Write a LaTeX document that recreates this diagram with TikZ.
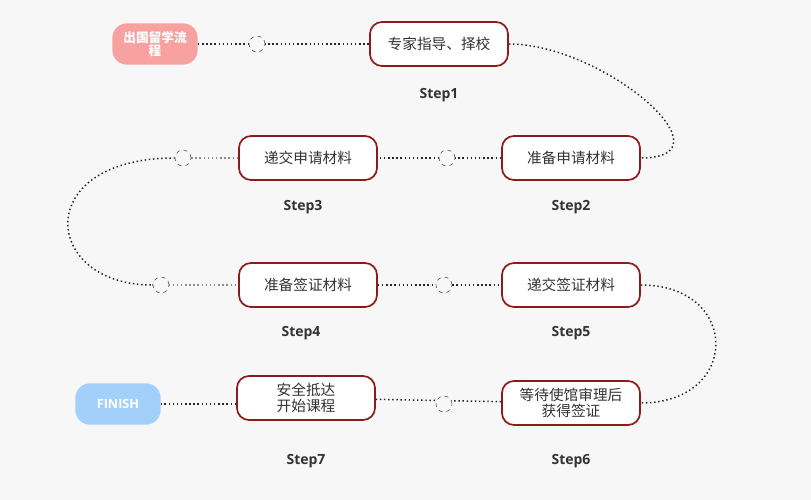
\documentclass[tikz,border=0pt]{standalone}
\usepackage{fontspec}
\newfontfamily\cjk{Noto Sans CJK SC}
\setsansfont{Open Sans}
\definecolor{boxred}{HTML}{8E1B1B}
\definecolor{startpink}{HTML}{F7A1A1}
\definecolor{finishblue}{HTML}{A3D0FA}
\definecolor{bggray}{HTML}{F7F7F7}
\tikzset{
    stepbox/.style={draw=boxred, line width=1.3pt, fill=white, rounded corners=9pt,
        minimum width=103.5pt, minimum height=33pt, align=center,
        font=\cjk\fontsize{11}{13}\selectfont, text=black!80},
    endcap/.style={rounded corners=11pt, minimum width=64pt, minimum height=31pt,
        align=center, text=white},
    steptag/.style={font=\sffamily\bfseries\fontsize{10.5}{12}\selectfont, text=black!80},
    hole/.style={draw=black!70, dashed, circle, minimum size=12pt, inner sep=0pt, fill=bggray},
    link/.style={dotted, line width=1.1pt, black!85}
}
\begin{document}
\begin{tikzpicture}[x=0.75pt,y=-0.75pt]
    \fill[bggray] (0,0) rectangle (811,500);
    % start and finish
    \node[endcap, fill=startpink, font=\cjk\bfseries\fontsize{9.5}{10}\selectfont] (start) at (155,44) {出国留学流\\程};
    \node[endcap, fill=finishblue, font=\sffamily\bfseries\fontsize{9.5}{10}\selectfont] (finish) at (118,404) {FINISH};
    % steps
    \node[stepbox] (s1) at (439,44) {专家指导、择校};
    \node[stepbox] (s2) at (571,158) {准备申请材料};
    \node[stepbox] (s3) at (308,158) {递交申请材料};
    \node[stepbox] (s4) at (308,285) {准备签证材料};
    \node[stepbox] (s5) at (571,285) {递交签证材料};
    \node[stepbox, font=\cjk\fontsize{11}{12.5}\selectfont] (s6) at (571,403) {等待使馆审理后\\获得签证};
    \node[stepbox, font=\cjk\fontsize{11}{12.5}\selectfont] (s7) at (306,398) {安全抵达\\开始课程};
    % step tags
    \node[steptag] (t1) at (439,95) {Step1};
    \node[steptag] (t2) at (571,207) {Step2};
    \node[steptag] (t3) at (303,207) {Step3};
    \node[steptag] (t4) at (301,333) {Step4};
    \node[steptag] (t5) at (571,333) {Step5};
    \node[steptag] (t6) at (571,461) {Step6};
    \node[steptag] (t7) at (306,461) {Step7};
    % path
    \coordinate (c3) at (175,158);
    \coordinate (c4) at (152,285);
    \draw[link] (start) -- (s1);
    \draw[link] (s1.east) .. controls +(95,0) and +(95,0) .. (s2.east);
    \draw[link] (s2) -- (s3);
    \draw[link, black!45] (s3) -- (c3);
    \draw[link] (c3) .. controls +(-145,0) and +(-110,0) .. (c4);
    \draw[link, black!45] (c4) -- (s4);
    \draw[link] (s4) -- (s5);
    \draw[link] (s5.east) .. controls +(100,0) and +(100,0) .. (s6.east);
    \draw[link] (s6) -- (s7);
    \draw[link] (s7.west |- finish) -- (finish);
    % holes
    \node[hole] (h1) at (257,44) {};
    \node[hole] (h2) at (447,158) {};
    \node[hole] (h3) at (183,158) {};
    \node[hole] (h4) at (161,285) {};
    \node[hole] (h5) at (444,285) {};
    \node[hole] (h6) at (444,404) {};
\end{tikzpicture}
\end{document}
